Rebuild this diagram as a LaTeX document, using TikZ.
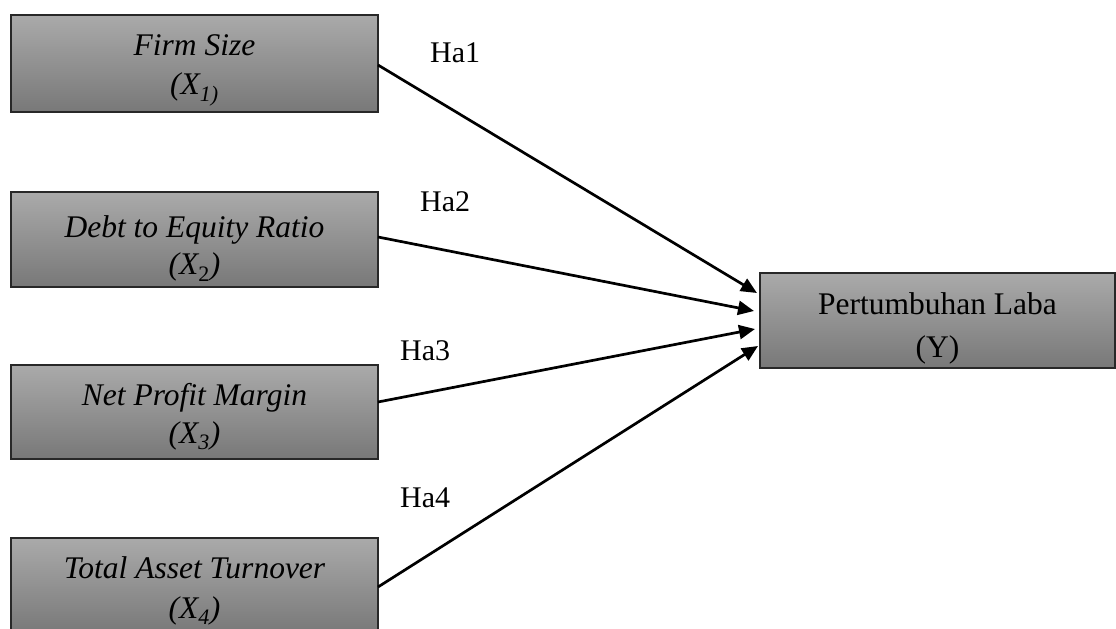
\documentclass[tikz,border=0pt]{standalone}
\usepackage{fontspec}
\setmainfont{Liberation Serif}
\usetikzlibrary{arrows.meta}
\definecolor{gtop}{RGB}{170,170,170}
\definecolor{gbot}{RGB}{120,120,120}
\definecolor{gedge}{RGB}{40,40,40}
\newcommand\fsz[1]{\fontsize{31.5bp}{#1bp}\selectfont}
\begin{document}
\begin{tikzpicture}[x=1bp,y=-1bp,
  varbox/.style={rectangle, draw=gedge, line width=1.3bp, top color=gtop, bottom color=gbot,
    minimum width=367bp, inner sep=0pt, outer sep=0pt, align=center},
  lbl/.style={anchor=base west, inner sep=0pt, font=\fontsize{30bp}{36bp}\selectfont},
  link/.style={line width=2.7bp, -{Triangle[length=16bp,width=14bp]}}]
\useasboundingbox[fill=white] (0,0) rectangle (1116,629);
\node[varbox, minimum height=97bp, font=\fsz{39}] (b1) at (194.5,63.5)
  {\rule{0pt}{34bp}\itshape Firm Size\\ \itshape (X\textsubscript{1)}};
\node[varbox, minimum height=95bp, font=\fsz{37}] (b2) at (194.5,239.5)
  {\rule{0pt}{40.7bp}\itshape Debt to Equity Ratio\\ \itshape (X\textsubscript{\upshape 2})};
\node[varbox, minimum height=94bp, font=\fsz{38}] (b3) at (194.5,412)
  {\rule{0pt}{32bp}\itshape Net Profit Margin\\ \itshape (X\textsubscript{3})};
\node[varbox, minimum height=96bp, font=\fsz{40}] (b4) at (194.5,586)
  {\rule{0pt}{32bp}\itshape Total Asset Turnover\\ \itshape (X\textsubscript{4})};
\node[varbox, minimum width=355bp, minimum height=95bp, font=\fsz{43}] (y) at (937.5,320.5)
  {\rule{0pt}{37bp}Pertumbuhan Laba\\ (Y)};
\node[lbl] (h1) at (430,63) {Ha1};
\node[lbl] (h2) at (420,212) {Ha2};
\node[lbl] (h3) at (400,360) {Ha3};
\node[lbl] (h4) at (400,507) {Ha4};
\draw[link] ([yshift=-1.5bp]b1.east) -- ([xshift=-3bp,yshift=27.5bp]y.west);
\draw[link] ([yshift=2.5bp]b2.east) -- ([xshift=-6bp,yshift=9.5bp]y.west);
\draw[link] ([yshift=10bp]b3.east) -- ([xshift=-5bp,yshift=-8.5bp]y.west);
\draw[link] ([yshift=-1bp]b4.east) -- ([xshift=-2bp,yshift=-25.5bp]y.west);
\end{tikzpicture}
\end{document}
